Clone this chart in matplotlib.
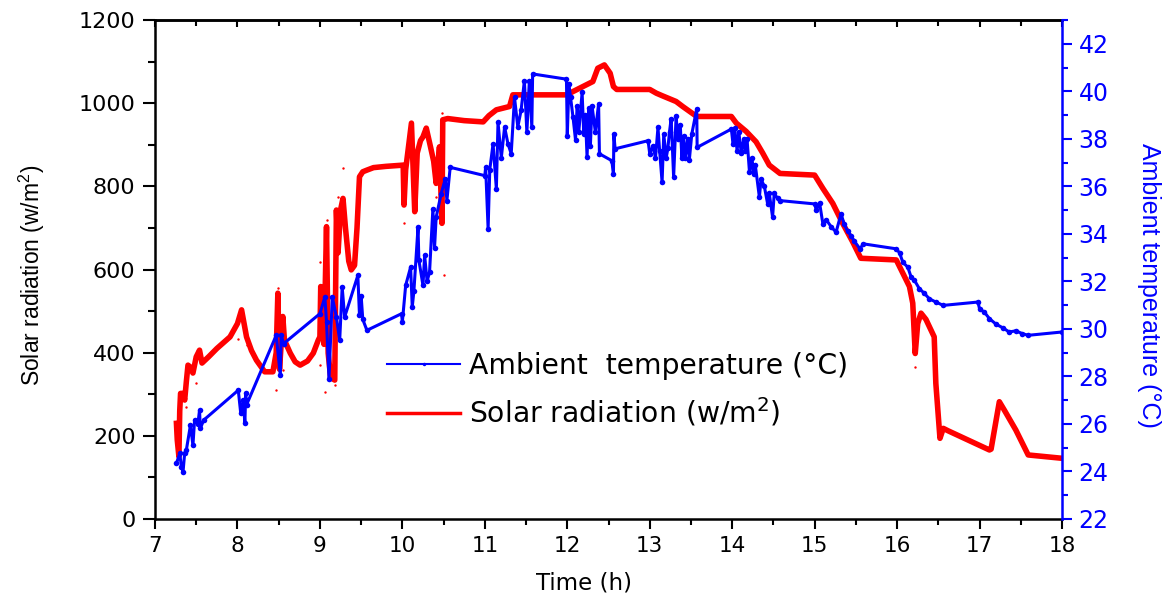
import matplotlib
matplotlib.use("Agg")
import matplotlib.pyplot as plt
from matplotlib.lines import Line2D
from matplotlib.ticker import MultipleLocator
from matplotlib import font_manager as fm

# ---------------- data ----------------
solar_time = [7.26, 7.27, 7.29, 7.30, 7.31, 7.34, 7.36, 7.38, 7.40, 7.43, 7.46, 7.50,
              7.54, 7.57, 7.65, 7.75, 7.91, 8.00, 8.05, 8.08, 8.11, 8.17, 8.23, 8.33,
              8.43, 8.47, 8.49, 8.51, 8.53, 8.55, 8.57, 8.64, 8.70, 8.76, 8.85, 8.92,
              8.98, 9.00, 9.01, 9.03, 9.05, 9.08, 9.10, 9.13, 9.18, 9.20, 9.22, 9.25,
              9.28, 9.31, 9.35, 9.38, 9.42, 9.45, 9.48, 9.52, 9.57, 9.65, 9.80, 10.01,
              10.02, 10.04, 10.11, 10.15, 10.18, 10.22, 10.25, 10.29, 10.33, 10.38, 10.41, 10.45,
              10.48, 10.49, 10.55, 10.75, 10.98, 11.05, 11.14, 11.30, 11.34, 11.99, 12.07, 12.23,
              12.31, 12.37, 12.45, 12.52, 12.56, 12.60, 13.00, 13.08, 13.15, 13.32, 13.40, 13.57,
              13.99, 14.05, 14.17, 14.29, 14.37, 14.45, 14.58, 15.00, 15.10, 15.22, 15.34, 15.46,
              15.56, 15.99, 16.07, 16.15, 16.19, 16.22, 16.25, 16.29, 16.35, 16.45, 16.47, 16.52,
              16.56, 16.62, 17.12, 17.14, 17.24, 17.30, 17.44, 17.59, 18.00]
solar_value = [230, 190, 150, 260, 302, 302, 286, 330, 370, 365, 351, 390,
               406, 375, 390, 410, 438, 470, 503, 470, 438, 405, 382, 354,
               354, 400, 543, 360, 420, 487, 430, 399, 378, 370, 380, 399,
               430, 438, 559, 500, 420, 703, 399, 340, 334, 743, 640, 743,
               771, 700, 620, 599, 610, 700, 823, 835, 839, 845, 848, 851,
               755, 840, 952, 739, 880, 910, 919, 940, 905, 860, 807, 895,
               711, 960, 963, 958, 955, 970, 984, 992, 1020, 1020, 1028, 1044,
               1052, 1084, 1092, 1072, 1040, 1033, 1033, 1024, 1018, 1004, 992, 968,
               968, 952, 932, 907, 880, 851, 831, 827, 795, 759, 711, 667,
               627, 623, 591, 559, 519, 398, 470, 495, 480, 438, 326, 194,
               218, 212, 166, 168, 282, 262, 214, 154, 146]

# stray solar readings (tiny dots)
stray_time = [7.38, 7.50, 8.01, 8.11, 8.47, 8.49, 8.55, 9.00, 9.00, 9.06, 9.08, 9.18,
              9.22, 9.28, 10.02, 10.41, 10.48, 10.50, 16.22]
stray_value = [270, 326, 432, 418, 310, 555, 358, 619, 371, 305, 719, 322,
               775, 843, 713, 775, 976, 587, 366]

temp_time = [7.26, 7.30, 7.32, 7.34, 7.36, 7.38, 7.43, 7.46, 7.48, 7.52, 7.54, 7.55,
             7.59, 8.01, 8.04, 8.07, 8.09, 8.10, 8.11, 8.47, 8.52, 8.53, 8.56, 9.00,
             9.06, 9.08, 9.11, 9.15, 9.20, 9.24, 9.27, 9.30, 9.46, 9.48, 9.50, 9.52,
             9.57, 9.99, 10.00, 10.04, 10.10, 10.12, 10.14, 10.19, 10.20, 10.25, 10.27, 10.30,
             10.33, 10.37, 10.39, 10.41, 10.47, 10.52, 10.54, 10.58, 11.00, 11.01, 11.04, 11.06,
             11.10, 11.14, 11.16, 11.20, 11.24, 11.28, 11.32, 11.36, 11.40, 11.44, 11.48, 11.51,
             11.54, 11.57, 11.58, 11.99, 12.00, 12.02, 12.04, 12.07, 12.10, 12.12, 12.14, 12.18,
             12.20, 12.22, 12.24, 12.26, 12.28, 12.30, 12.34, 12.38, 12.39, 12.54, 12.56, 12.565,
             12.58, 12.98, 13.00, 13.04, 13.07, 13.10, 13.12, 13.15, 13.17, 13.20, 13.22, 13.24,
             13.26, 13.29, 13.32, 13.34, 13.37, 13.39, 13.41, 13.43, 13.46, 13.48, 13.51, 13.57,
             13.575, 13.99, 14.01, 14.03, 14.06, 14.08, 14.11, 14.14, 14.16, 14.18, 14.21, 14.24,
             14.26, 14.28, 14.33, 14.35, 14.39, 14.43, 14.45, 14.49, 14.51, 14.55, 14.58, 15.00,
             15.02, 15.06, 15.10, 15.14, 15.20, 15.26, 15.32, 15.36, 15.40, 15.44, 15.48, 15.55,
             15.59, 15.99, 16.03, 16.07, 16.13, 16.17, 16.21, 16.27, 16.33, 16.39, 16.47, 16.56,
             16.98, 17.00, 17.06, 17.12, 17.20, 17.28, 17.36, 17.44, 17.52, 17.59, 18.00]
temp_value = [24.34, 24.76, 24.20, 23.99, 24.77, 24.90, 25.95, 25.10, 26.16, 26.00, 26.58, 25.81,
              26.16, 27.42, 26.44, 27.00, 26.02, 27.30, 26.80, 29.73, 28.05, 29.73, 29.38, 30.64,
              31.34, 30.30, 27.91, 31.34, 30.50, 29.52, 31.76, 30.50, 32.25, 30.57, 31.40, 30.40,
              29.94, 30.64, 30.30, 31.83, 32.60, 30.92, 31.60, 34.28, 32.90, 31.83, 33.10, 32.00,
              32.40, 35.05, 33.40, 34.70, 35.68, 36.31, 35.40, 36.80, 36.45, 36.80, 34.21, 36.70,
              37.79, 35.89, 38.69, 37.20, 38.50, 37.80, 37.37, 39.74, 38.50, 39.20, 40.45, 38.27,
              40.45, 38.50, 40.73, 40.51, 38.13, 40.30, 39.74, 38.90, 37.95, 39.40, 38.30, 39.95,
              38.20, 39.00, 37.22, 39.30, 37.70, 39.40, 38.30, 39.47, 37.37, 37.08, 36.52, 38.20,
              37.58, 37.92, 37.37, 37.70, 37.20, 38.48, 37.50, 36.17, 38.20, 37.20, 37.60, 38.30,
              38.85, 36.38, 38.97, 38.00, 38.60, 37.20, 38.10, 37.20, 38.00, 37.10, 38.20, 39.26,
              37.64, 38.41, 37.78, 38.45, 37.50, 38.30, 37.40, 38.00, 37.50, 38.00, 36.59, 37.20,
              36.50, 36.90, 35.54, 36.30, 36.00, 35.26, 35.70, 34.70, 35.70, 35.50, 35.40, 35.26,
              35.00, 35.30, 34.42, 34.60, 34.30, 34.07, 34.84, 34.40, 34.10, 33.93, 33.70, 33.37,
              33.58, 33.37, 33.20, 32.80, 32.60, 32.18, 32.05, 31.69, 31.50, 31.27, 31.13, 30.99,
              31.13, 30.85, 30.70, 30.43, 30.20, 30.05, 29.87, 29.92, 29.80, 29.73, 29.87]

x_ticks = [7, 8, 9, 10, 11, 12, 13, 14, 15, 16, 17, 18]
solar_ticks = [0, 200, 400, 600, 800, 1000, 1200]
temp_ticks = [22, 24, 26, 28, 30, 32, 34, 36, 38, 40, 42]

# ---------------- styling ----------------
names = {f.name for f in fm.fontManager.ttflist}
narrow = "Liberation Sans Narrow" in names
plt.rcParams["font.family"] = ["DejaVu Sans"]
plt.rcParams["mathtext.default"] = "regular"

BLUE = "#0000ff"
RED = "#ff0000"
W, H = 1170, 600

fig = plt.figure(figsize=(W / 100, H / 100), dpi=100)
ax = fig.add_axes([155 / W, 81 / H, 907 / W, 499 / H])
ax2 = ax.twinx()

ax.plot(solar_time, solar_value, color=RED, lw=4.0, solid_joinstyle="round", zorder=2)
ax.scatter(stray_time, stray_value, s=3, color=RED, linewidths=0, zorder=2)
ax2.plot(temp_time, temp_value, color=BLUE, lw=2.2, marker="o", ms=4,
         markeredgewidth=0, zorder=3)

ax.set_xlim(7, 18)
ax.set_ylim(0, 1200)
ax2.set_ylim(22, 43)
ax.set_xticks(x_ticks)
ax.set_yticks(solar_ticks)
ax2.set_yticks(temp_ticks)
ax.xaxis.set_minor_locator(MultipleLocator(0.5))
ax.yaxis.set_minor_locator(MultipleLocator(100))
ax2.yaxis.set_minor_locator(MultipleLocator(1))

for s in ax.spines.values():
    s.set_linewidth(1.8)
ax.spines["right"].set_visible(False)
for k in ("left", "top", "bottom"):
    ax2.spines[k].set_visible(False)
ax2.spines["right"].set_color(BLUE)
ax2.spines["right"].set_linewidth(1.8)

ax.tick_params(axis="y", which="major", direction="out", length=9, width=1.5,
               labelsize=16, pad=5, colors="black")
ax.tick_params(axis="y", which="minor", direction="out", length=5, width=1.5)
ax.tick_params(axis="x", which="major", direction="out", length=7, width=1.5,
               labelsize=15.5, pad=5)
ax.tick_params(axis="x", which="minor", direction="out", length=4, width=1.5)
ax2.tick_params(axis="y", which="major", direction="out", length=7, width=1.5,
                labelsize=17, colors=BLUE, pad=5)
ax2.tick_params(axis="y", which="minor", direction="out", length=4.5, width=1.5,
                colors=BLUE)

top = ax.secondary_xaxis("top")
top.set_xticks(x_ticks)
top.xaxis.set_minor_locator(MultipleLocator(0.5))
top.tick_params(axis="x", which="both", direction="in", labeltop=False, width=1.5)
top.tick_params(axis="x", which="major", length=5)
top.tick_params(axis="x", which="minor", length=4)
top.spines["top"].set_linewidth(1.8)

# axis labels
if narrow:
    lab_font = dict(family=["Liberation Sans Narrow", "DejaVu Sans"], size=19.5)
    rlab_font = dict(family=["Liberation Sans Narrow", "DejaVu Sans"], size=21.5)
else:
    lab_font = dict(family=["Liberation Sans", "DejaVu Sans"], size=16.5)
    rlab_font = dict(family=["Liberation Sans", "DejaVu Sans"], size=18)
fig.text(32 / W, 1 - 275 / H, "Solar radiation (w/m$^2$)", rotation=90,
         ha="center", va="center", **lab_font)
fig.text(1149 / W, 1 - 285 / H, "Ambient temperature (°C)", rotation=270,
         ha="center", va="center", color=BLUE, **rlab_font)
fig.text(584 / W, 1 - 583 / H, "Time (h)", ha="center", va="center", fontsize=16.5)

handles = [Line2D([0, 1, 2], [0, 0, 0], color=BLUE, lw=1.5, marker="o", ms=2.5,
                  markevery=[1], markeredgewidth=0),
           Line2D([], [], color=RED, lw=2.5)]
labels = ["Ambient  temperature (°C)", "Solar radiation (w/m$^2$)"]
ax2.legend(handles, labels, loc="upper left", bbox_to_anchor=(387 / W, 1 - 352 / H),
           bbox_transform=fig.transFigure, frameon=False, borderpad=0,
           borderaxespad=0, handlelength=2.6, handletextpad=0.32,
           labelspacing=0.55, fontsize=20.3)

fig.savefig("out.png", dpi=100)
